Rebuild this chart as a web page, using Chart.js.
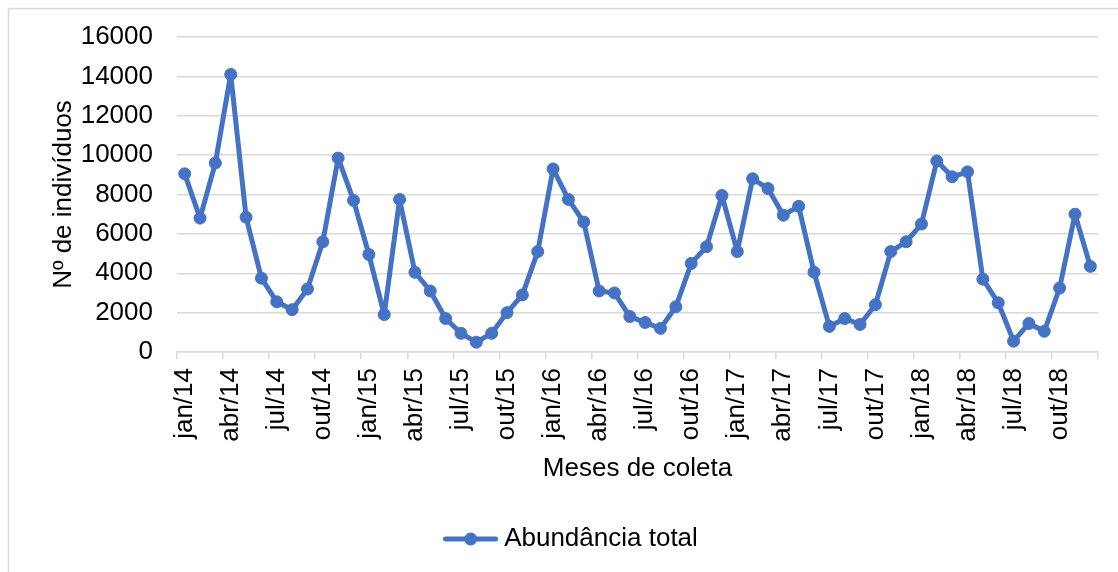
<!DOCTYPE html>
<html>
<head>
<meta charset="utf-8">
<script src="https://cdn.jsdelivr.net/npm/chart.js@4.4.1/dist/chart.umd.min.js"></script>
<style>
  html, body { margin: 0; padding: 0; background: #ffffff; }
  #wrap { position: relative; width: 1118px; height: 572px; }
</style>
</head>
<body>
<div id="wrap"><canvas id="c"></canvas></div>
<script>
const months = ['jan','fev','mar','abr','mai','jun','jul','ago','set','out','nov','dez'];
const years = ['14','15','16','17','18'];
const abundance2014 = [9050, 6800, 9600, 14100, 6850, 3750, 2550, 2150, 3200, 5600, 9850, 7700];
const abundance2015 = [4950, 1900, 7750, 4050, 3100, 1700, 950, 500, 950, 2000, 2900, 5100];
const abundance2016 = [9300, 7750, 6600, 3100, 3000, 1800, 1500, 1200, 2300, 4500, 5350, 7950];
const abundance2017 = [5100, 8800, 8300, 6950, 7400, 4050, 1300, 1700, 1400, 2400, 5100, 5600];
const abundance2018 = [6500, 9700, 8900, 9150, 3700, 2500, 550, 1450, 1050, 3250, 7000, 4350];
const yTicks = [0, 2000, 4000, 6000, 8000, 10000, 12000, 14000, 16000];
const seriesName = 'Abundância total';
const xTitle = 'Meses de coleta';
const yTitle = 'Nº de indivíduos';

const categories = [];
years.forEach(y => months.forEach(m => categories.push(m + '/' + y)));
const values = [].concat(abundance2014, abundance2015, abundance2016, abundance2017, abundance2018);

const BLUE = '#4472C4';
const GRID = '#d9d9d9';
const FONT = { family: '"Liberation Sans", Arial, sans-serif', size: 26 };

// legend marker: line with a circle
const marker = document.createElement('canvas');
marker.width = 55; marker.height = 16;
(function(){
  const g = marker.getContext('2d');
  g.strokeStyle = BLUE; g.lineWidth = 5; g.lineCap = 'round';
  g.beginPath(); g.moveTo(2.5, 8); g.lineTo(52.5, 8); g.stroke();
  g.fillStyle = BLUE; g.beginPath(); g.arc(27.5, 8, 6.5, 0, Math.PI * 2); g.fill();
})();

const borderPlugin = {
  id: 'outerBorder',
  beforeDraw(chart) {
    const c = chart.ctx;
    c.save();
    c.strokeStyle = GRID; c.lineWidth = 1.5;
    c.beginPath();
    c.moveTo(8.5, 572); c.lineTo(8.5, 8.5); c.lineTo(1118, 8.5);
    c.stroke();
    c.restore();
  },
  afterLayout(chart) {
    if (chart.legend) { chart.legend.left += 14; chart.legend.right += 14; }
  }
};

new Chart(document.getElementById('c'), {
  type: 'line',
  data: {
    labels: categories,
    datasets: [{
      label: seriesName,
      data: values,
      borderColor: BLUE,
      backgroundColor: BLUE,
      borderWidth: 5,
      borderJoinStyle: 'round',
      borderCapStyle: 'round',
      pointRadius: 6,
      pointBorderWidth: 1,
      pointBackgroundColor: BLUE,
      pointBorderColor: BLUE,
      tension: 0,
      fill: false
    }]
  },
  options: {
    responsive: true,
    maintainAspectRatio: false,
    animation: false,
    devicePixelRatio: 1,
    layout: { padding: { left: 22, right: 20, top: 37, bottom: 10 } },
    plugins: {
      tooltip: { enabled: false },
      legend: {
        display: true,
        position: 'bottom',
        align: 'center',
        labels: {
          usePointStyle: true,
          pointStyle: marker,
          pointStyleWidth: 41,
          boxHeight: 26,
          padding: 10,
          color: '#000',
          font: FONT
        }
      }
    },
    scales: {
      x: {
        type: 'category',
        offset: true,
        afterFit: s => { s.height = 164; s.paddingLeft = 0; s.paddingRight = 0; },
        grid: {
          offset: true,
          drawOnChartArea: false,
          drawTicks: true,
          tickLength: 7,
          lineWidth: 1.5,
          tickColor: ctx => (ctx.type !== 'tick' || ctx.index % 3 === 0) ? GRID : 'rgba(0,0,0,0)'
        },
        border: { display: true, color: GRID, width: 1.5 },
        ticks: {
          autoSkip: false,
          minRotation: 90,
          maxRotation: 90,
          padding: 9,
          color: '#000',
          font: FONT,
          callback: function(v, i) { return i % 3 === 0 ? categories[i] : ''; }
        },
        title: {
          display: true,
          text: xTitle,
          color: '#000',
          font: FONT,
          padding: { top: 0, bottom: 31.4 }
        }
      },
      y: {
        min: yTicks[0],
        max: yTicks[yTicks.length - 1],
        afterFit: s => { s.width = 155; s.paddingTop = 0; s.paddingBottom = 0; },
        afterBuildTicks: s => { s.ticks = yTicks.map(v => ({ value: v })); },
        grid: { color: GRID, lineWidth: 1.5, drawTicks: false },
        border: { display: false },
        ticks: {
          padding: 24,
          color: '#000',
          font: FONT,
          callback: v => String(v)
        },
        title: {
          display: true,
          text: yTitle,
          color: '#000',
          font: FONT,
          padding: { top: 26.4, bottom: 0 }
        }
      }
    }
  },
  plugins: [borderPlugin]
});
</script>
</body>
</html>
